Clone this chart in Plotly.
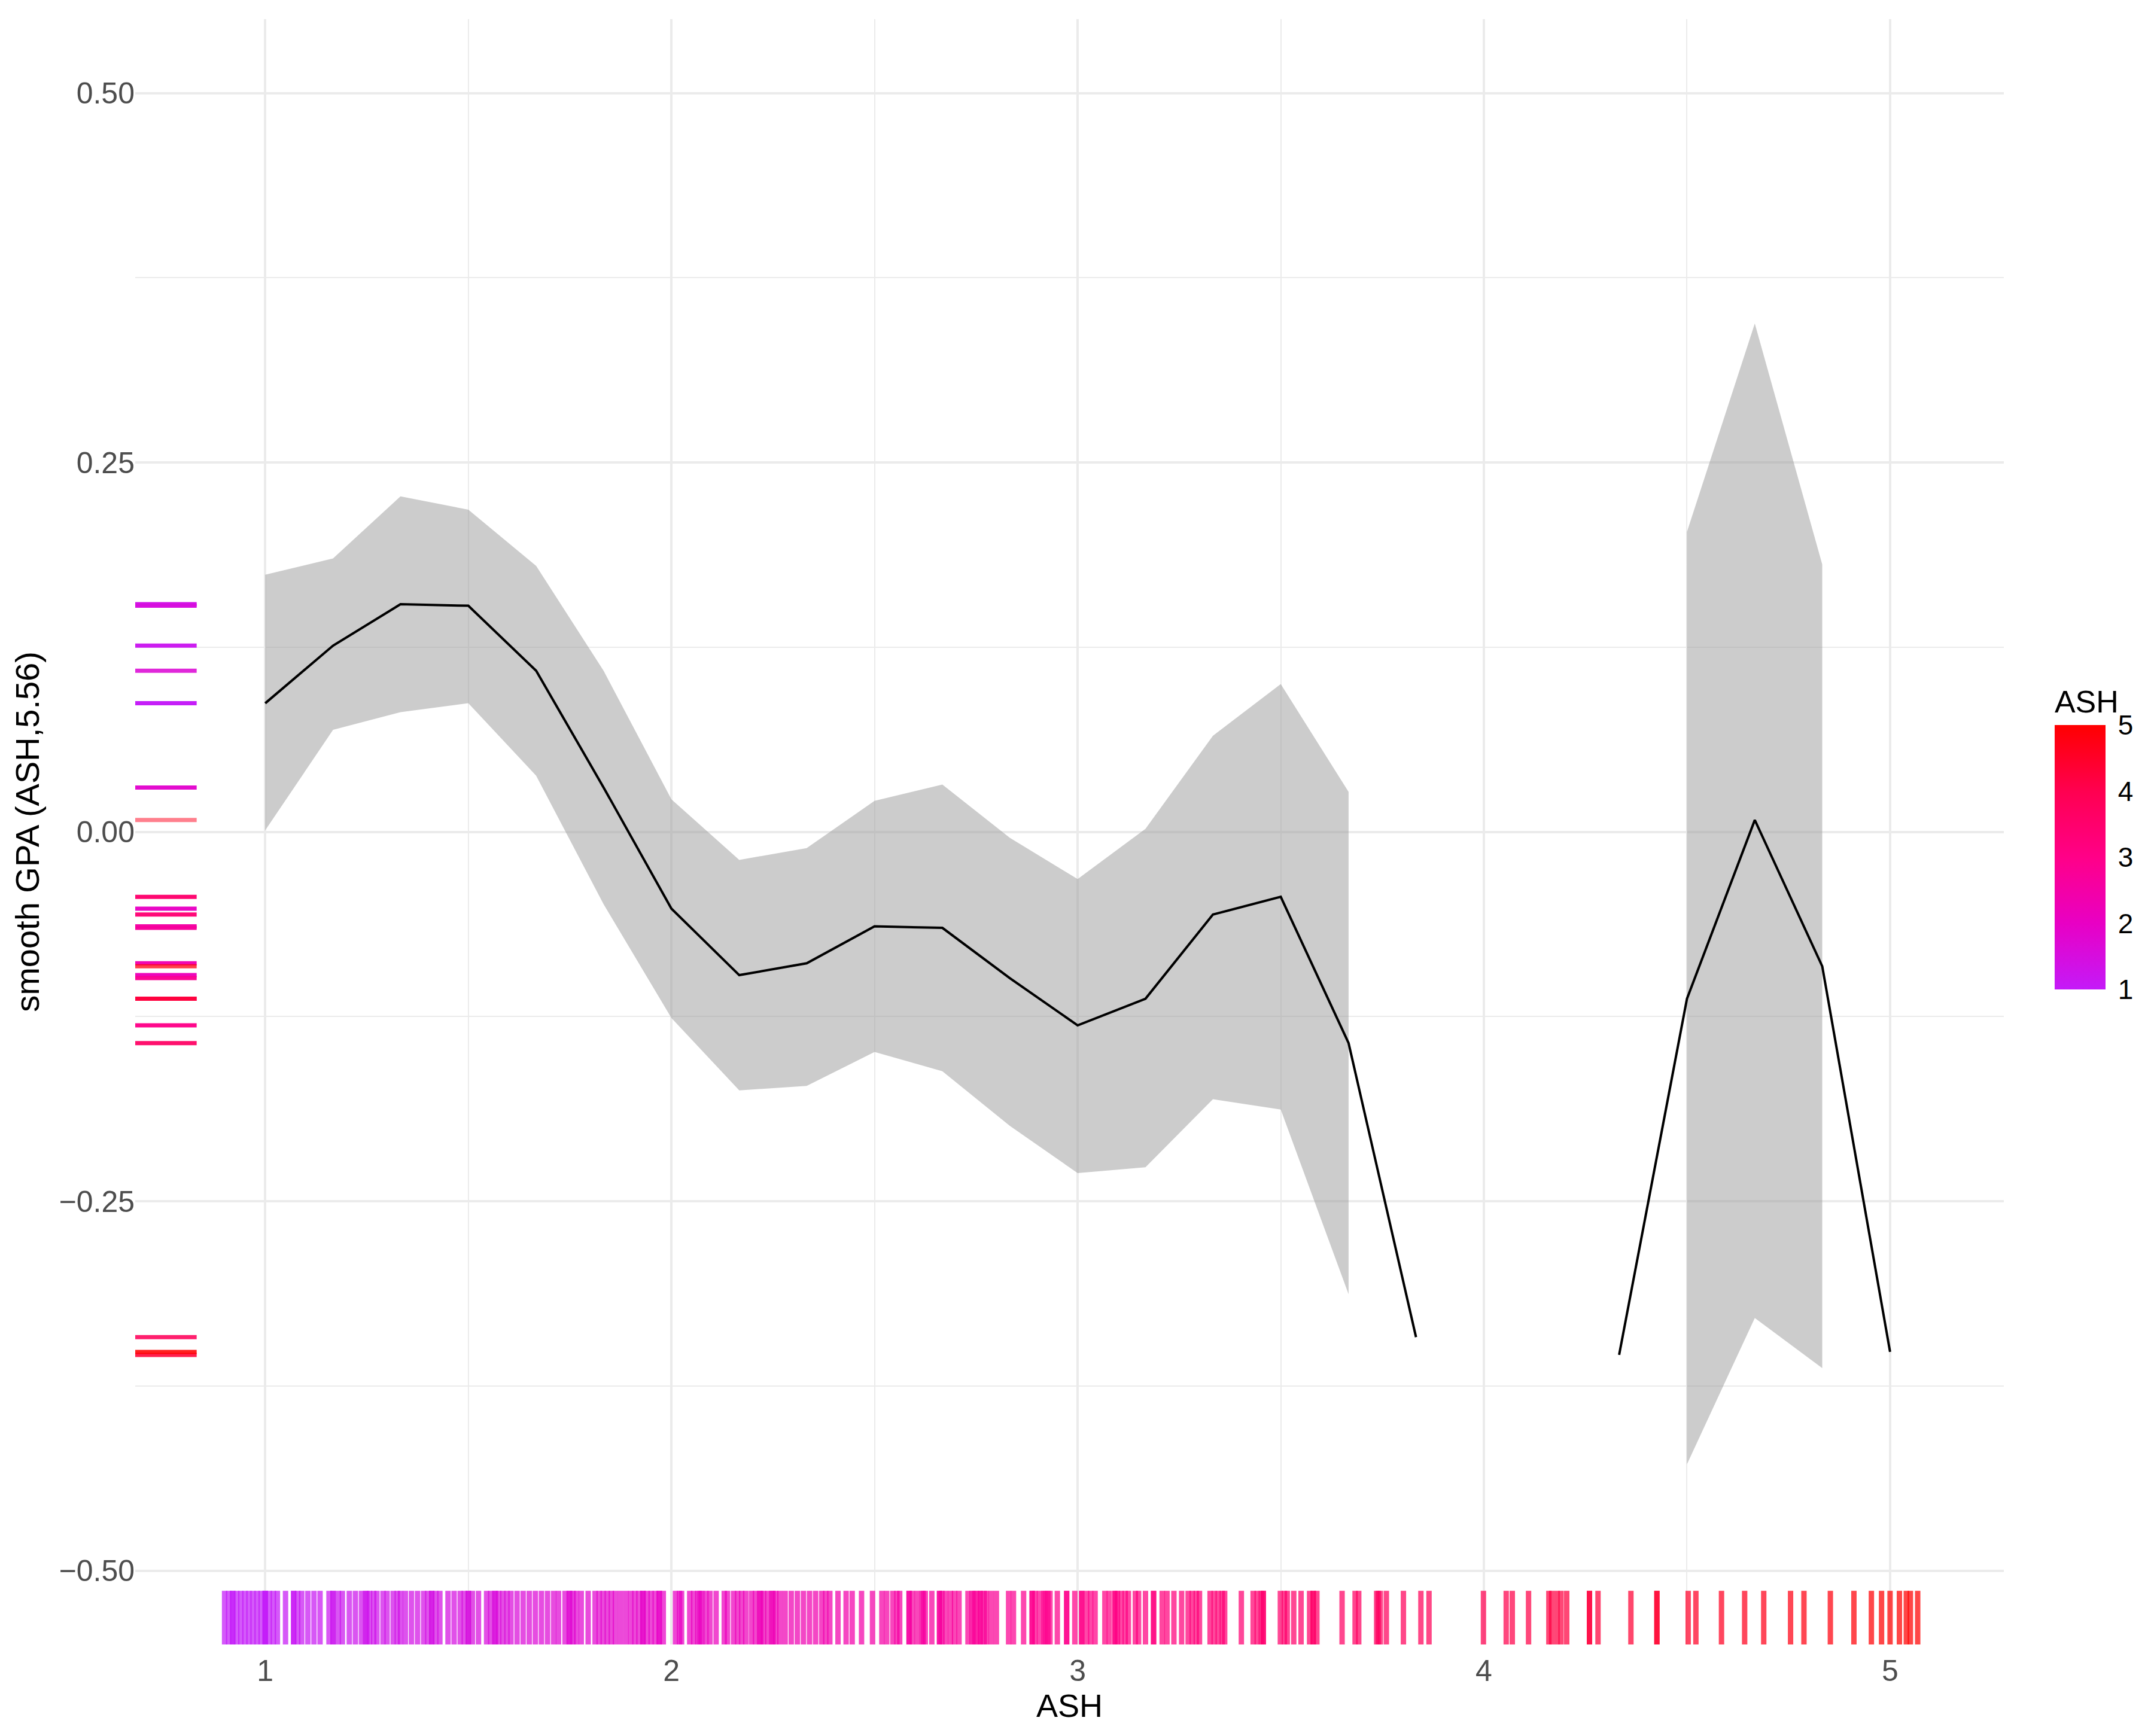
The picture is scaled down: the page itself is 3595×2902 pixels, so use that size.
import plotly.graph_objects as go

# ASH levels the smooth was evaluated at (steps of 1/6)
ash_levels = [1.0, 1.167, 1.333, 1.5, 1.667, 1.833, 2.0, 2.167, 2.333, 2.5, 2.667, 2.833,
              3.0, 3.167, 3.333, 3.5, 3.667, 3.833, 4.0, 4.167, 4.333, 4.5, 4.667, 4.833, 5.0]
smooth_gpa = [0.087, 0.126, 0.154, 0.153, 0.109, 0.030, -0.052, -0.097, -0.089, -0.064, -0.065, -0.099,
              -0.131, -0.113, -0.056, -0.044, -0.143, -0.342, None, None, -0.354, -0.113, 0.008, -0.091, -0.352]
ci_upper = [0.174, 0.185, 0.227, 0.218, 0.180, 0.109, 0.022, -0.019, -0.011, 0.021, 0.032, -0.004,
            -0.032, 0.002, 0.065, 0.100, 0.027, None, None, None, None, 0.203, 0.344, 0.181, None]
ci_lower = [0.001, 0.069, 0.081, 0.087, 0.038, -0.049, -0.126, -0.175, -0.172, -0.149, -0.162, -0.199,
            -0.231, -0.227, -0.181, -0.188, -0.313, None, None, None, None, -0.428, -0.329, -0.363, None]
# observations sitting on each level (drives how solid the left rug looks)
obs_per_level = [6, 5, 6, 6, 3, 5, 5, 5, 5, 5, 5, 5,
                 5, 5, 5, 5, 4, 3, 0, 0, 3, 2, 1, 2, 3]

# individual (jittered) ASH scores for the bottom rug
ash_rug = [
    0.90, 0.91, 0.92, 0.92, 0.93, 0.94, 0.95, 0.96, 0.97, 0.98, 0.99, 1.00, 1.00, 1.00, 1.01, 1.02, 1.03,
    1.05, 1.07, 1.07, 1.08, 1.09, 1.105, 1.12, 1.135, 1.157, 1.167, 1.167, 1.18, 1.19, 1.207, 1.222,
    1.237, 1.247, 1.25, 1.257, 1.267, 1.275, 1.29, 1.30, 1.315, 1.325, 1.333, 1.345, 1.36, 1.375,
    1.39, 1.40, 1.41, 1.41, 1.42, 1.43, 1.45, 1.465, 1.48, 1.49, 1.50, 1.50, 1.51, 1.525,
    1.545, 1.555, 1.565, 1.567, 1.575, 1.585, 1.595, 1.605, 1.62, 1.635, 1.65, 1.665, 1.68, 1.695, 1.71,
    1.722, 1.738, 1.748, 1.75, 1.758, 1.766, 1.778, 1.795, 1.812, 1.822, 1.832, 1.842, 1.852, 1.862,
    1.875, 1.888, 1.90, 1.91, 1.92, 1.93, 1.93, 1.94, 1.95, 1.96, 1.97, 1.97, 1.98,
    2.01, 2.02, 2.025, 2.045, 2.055, 2.065, 2.07, 2.075, 2.085, 2.095, 2.11, 2.13, 2.138,
    2.153, 2.163, 2.173, 2.183, 2.197, 2.207, 2.217, 2.22, 2.227, 2.237, 2.247, 2.25, 2.257, 2.267,
    2.28, 2.295, 2.31, 2.325, 2.34, 2.355, 2.37, 2.38, 2.39, 2.41, 2.43, 2.445, 2.468, 2.495,
    2.518, 2.53, 2.545, 2.555, 2.562, 2.585, 2.585, 2.593, 2.605, 2.617, 2.62, 2.625, 2.641,
    2.66, 2.66, 2.666, 2.675, 2.687, 2.697, 2.708, 2.73, 2.74, 2.745, 2.75, 2.76, 2.76, 2.77, 2.775,
    2.787, 2.80, 2.83, 2.842, 2.867, 2.888, 2.888, 2.895, 2.906, 2.917, 2.92, 2.927, 2.932, 2.95,
    2.973, 2.973, 2.993, 3.01, 3.01, 3.022, 3.032, 3.043, 3.067, 3.078, 3.092, 3.092, 3.098,
    3.107, 3.117, 3.125, 3.142, 3.15, 3.167, 3.187, 3.187, 3.208, 3.22, 3.237, 3.256,
    3.272, 3.282, 3.292, 3.30, 3.326, 3.336, 3.346, 3.356, 3.362,
    3.403, 3.432, 3.442, 3.452, 3.457, 3.457, 3.499, 3.509, 3.516, 3.532, 3.55,
    3.571, 3.58, 3.58, 3.589, 3.651, 3.683, 3.692, 3.736, 3.74, 3.745, 3.76, 3.802, 3.845, 3.865,
    3.999, 4.055, 4.07, 4.11, 4.16, 4.167, 4.18, 4.19, 4.204,
    4.26, 4.26, 4.281, 4.362, 4.426, 4.426, 4.503, 4.522, 4.585, 4.642, 4.689, 4.755, 4.788,
    4.853, 4.911, 4.954, 4.979, 5.0, 5.023, 5.04, 5.05, 5.068,
]

x_ticks = [1, 2, 3, 4, 5]
y_ticks = [-0.5, -0.25, 0.0, 0.25, 0.5]
y_ticktext = ["\u22120.50", "\u22120.25", "0.00", "0.25", "0.50"]

ash_colors = [[0.0, "#c41af8"], [0.25, "#e800c4"], [0.5, "#ff0088"], [0.75, "#ff0050"], [1.0, "#ff0000"]]
FONT = "Liberation Sans, Arial, sans-serif"

fig = go.Figure()

# confidence band: one polygon per run of levels that have a standard error
runs, cur = [], []
for i, u in enumerate(ci_upper):
    if u is None:
        if cur:
            runs.append(cur)
        cur = []
    else:
        cur.append(i)
if cur:
    runs.append(cur)
for idx in runs:
    xs = [ash_levels[i] for i in idx]
    fig.add_scatter(x=xs + xs[::-1],
                    y=[ci_upper[i] for i in idx] + [ci_lower[i] for i in idx][::-1],
                    mode="lines", fill="toself", fillcolor="rgba(153,153,153,0.5)",
                    line=dict(width=0), hoverinfo="skip", showlegend=False)

fig.add_scatter(x=ash_levels, y=smooth_gpa, mode="lines", connectgaps=False,
                line=dict(color="black", width=4), showlegend=False)

# bottom rug (x data, y in panel fraction)
fig.add_scatter(x=ash_rug, y=[0.0145] * len(ash_rug), yaxis="y2", mode="markers", showlegend=False,
                marker=dict(symbol="line-ns-open", size=72, color=ash_rug, colorscale=ash_colors,
                            cmin=1, cmax=5, opacity=0.72, line=dict(width=9), showscale=True,
                            colorbar=dict(x=1.0272, xanchor="left", xpad=0, y=0.403, yanchor="bottom",
                                          ypad=0, lenmode="pixels", len=505, thickness=85,
                                          outlinewidth=0, tickvals=x_ticks, ticks="outside",
                                          ticklen=12, tickwidth=2, tickcolor="white",
                                          tickfont=dict(size=46, color="black", family=FONT),
                                          title=dict(text="ASH", side="top",
                                                     font=dict(size=52, color="black", family=FONT)))))

# left rug: fitted value at each level, coloured by level
lv = [(a, g, n) for a, g, n in zip(ash_levels, smooth_gpa, obs_per_level) if g is not None]
fig.add_scatter(x=[0.0145] * len(lv), y=[g for _, g, _ in lv], xaxis="x2", mode="markers",
                showlegend=False,
                marker=dict(symbol="line-ew-open", size=82, color=[a for a, _, _ in lv],
                            colorscale=ash_colors, cmin=1, cmax=5,
                            opacity=[1 - 0.5 ** n for _, _, n in lv], line=dict(width=7)))

grid = "#ebebeb"
fig.update_layout(
    width=3595, height=2902,
    margin=dict(l=218, r=254, t=24, b=161, autoexpand=False),
    paper_bgcolor="white", plot_bgcolor="white",
    font=dict(family=FONT),
    xaxis=dict(range=[0.68, 5.28], tickvals=x_ticks, showgrid=True, gridcolor=grid, gridwidth=4,
               zeroline=False, showline=False, ticks="", ticklabelstandoff=10,
               tickfont=dict(size=50, color="#4d4d4d"),
               minor=dict(tickvals=[1.5, 2.5, 3.5, 4.5], showgrid=True, gridcolor=grid, gridwidth=2),
               title=dict(text="ASH", font=dict(size=54, color="black"), standoff=12)),
    yaxis=dict(range=[-0.55, 0.55], tickvals=y_ticks, ticktext=y_ticktext, showgrid=True,
               gridcolor=grid, gridwidth=4, zeroline=False, showline=False, ticks="",
               tickfont=dict(size=50, color="#4d4d4d"),
               minor=dict(tickvals=[-0.375, -0.125, 0.125, 0.375], showgrid=True, gridcolor=grid,
                          gridwidth=2),
               title=dict(text="smooth GPA (ASH,5.56)", font=dict(size=56, color="black"), standoff=14)),
    xaxis2=dict(overlaying="x", range=[0, 1], visible=False, anchor="y"),
    yaxis2=dict(overlaying="y", range=[0, 1], visible=False, anchor="x"),
)

fig.write_html("out.html")
